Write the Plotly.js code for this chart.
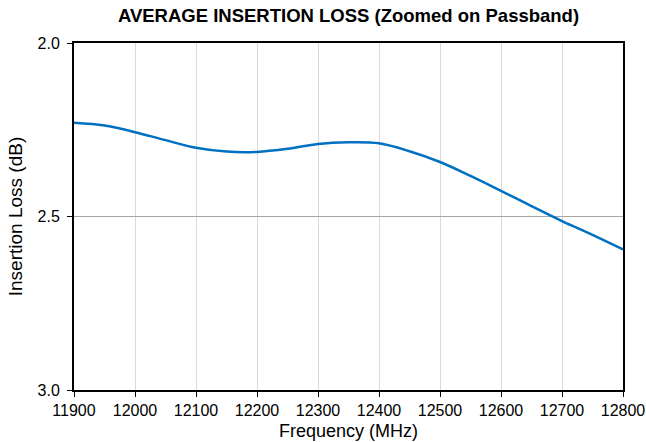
<!DOCTYPE html>
<html>
<head>
<meta charset="utf-8">
<script src="https://cdn.plot.ly/plotly-3.0.1.min.js"></script>
<style>html,body{margin:0;padding:0;background:#fff;}#chart{width:646px;height:442px;}</style>
</head>
<body>
<div id="chart"></div>
<script>
const frequencyMHz = [11900, 11950, 12000, 12050, 12100, 12150, 12200, 12250, 12300, 12350, 12400, 12450, 12500, 12550, 12600, 12650, 12700, 12750, 12800];
const insertionLossDb = [2.230, 2.238, 2.257, 2.280, 2.302, 2.313, 2.314, 2.305, 2.291, 2.286, 2.289, 2.312, 2.343, 2.383, 2.426, 2.470, 2.513, 2.553, 2.595];
const xTickVals = [11900, 12000, 12100, 12200, 12300, 12400, 12500, 12600, 12700, 12800];
const yTickVals = [2.0, 2.5, 3.0];
const yTickText = ['2.0', '2.5', '3.0'];
const xTitle = 'Frequency (MHz)';
const yTitle = 'Insertion Loss (dB)';
const chartTitle = 'AVERAGE INSERTION LOSS (Zoomed on Passband)';

const trace = {
  x: frequencyMHz,
  y: insertionLossDb,
  type: 'scatter',
  mode: 'lines',
  line: {color: '#0070c0', width: 2.5, shape: 'spline', smoothing: 1},
  hoverinfo: 'skip'
};

const layout = {
  width: 646, height: 442,
  margin: {l: 74, r: 23, t: 43, b: 52},
  paper_bgcolor: '#fff', plot_bgcolor: '#fff',
  showlegend: false,
  font: {family: 'Liberation Sans, Arial, sans-serif', size: 16, color: '#000'},
  title: {text: '<b>' + chartTitle + '</b>', x: 0.5, xref: 'paper', y: 0.964, yanchor: 'middle', font: {size: 18.5, color: '#000', family: 'Liberation Sans, Arial, sans-serif'}},
  xaxis: {
    range: [11900, 12800], tickvals: xTickVals, ticktext: xTickVals.map(String),
    showgrid: true, gridcolor: '#d9d9d9', gridwidth: 1,
    showline: true, linecolor: '#000', linewidth: 2, mirror: true,
    ticks: 'outside', ticklen: 5, tickcolor: '#000', tickwidth: 1,
    zeroline: false
  },
  yaxis: {
    range: [3.0, 2.0], tickvals: yTickVals, ticktext: yTickText,
    showgrid: true, gridcolor: '#a6a6a6', gridwidth: 1.5,
    showline: true, linecolor: '#000', linewidth: 2, mirror: true,
    ticks: 'outside', ticklen: 5, tickcolor: '#000', tickwidth: 1,
    ticklabelstandoff: 4,
    zeroline: false,
    title: {text: yTitle, font: {size: 19}, standoff: 10}
  },
  annotations: [{
    text: xTitle, xref: 'paper', yref: 'paper', x: 0.5, y: 0,
    xanchor: 'center', yanchor: 'top', yshift: -29, showarrow: false,
    font: {size: 18, color: '#000', family: 'Liberation Sans, Arial, sans-serif'}
  }]
};

Plotly.newPlot('chart', [trace], layout, {displayModeBar: false, staticPlot: true});
</script>
</body>
</html>
